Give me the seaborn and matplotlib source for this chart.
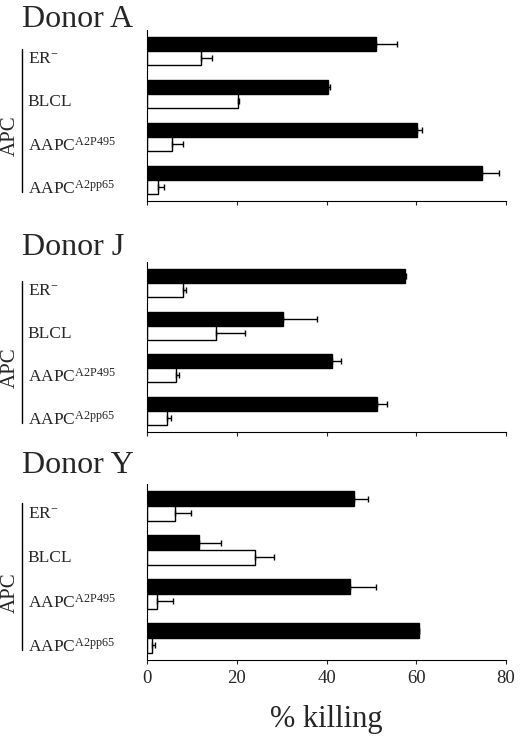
import numpy as np
import pandas as pd
import seaborn as sns
import matplotlib.pyplot as plt

# data (% killing)
cells = ["ER-", "BLCL", "AAPC A2P495", "AAPC A2pp65"]
cell_labels = ["ER$^{-}$", "BLCL", r"AAPC$^{\mathrm{A2P495}}$", r"AAPC$^{\mathrm{A2pp65}}$"]
targets = ["pulsed", "unpulsed"]
donors = ["Donor A", "Donor J", "Donor Y"]

donor_a_pulsed = [51, 40.3, 60.1, 74.7]
donor_a_pulsed_err = [4.7, 0.5, 1.2, 3.7]
donor_a_unpulsed = [12, 20.2, 5.5, 2.4]
donor_a_unpulsed_err = [2.5, 0.4, 2.5, 1.3]

donor_j_pulsed = [57.5, 30.3, 41.2, 51.2]
donor_j_pulsed_err = [0.3, 7.5, 2.0, 2.2]
donor_j_unpulsed = [8.0, 15.4, 6.5, 4.4]
donor_j_unpulsed_err = [0.8, 6.4, 0.7, 1.0]

donor_y_pulsed = [46.2, 11.6, 45.2, 60.6]
donor_y_pulsed_err = [3.1, 5.0, 5.8, 0.0]
donor_y_unpulsed = [6.2, 24, 2.2, 1.2]
donor_y_unpulsed_err = [3.6, 4.3, 3.5, 0.6]

values = {
    "Donor A": (donor_a_pulsed, donor_a_pulsed_err, donor_a_unpulsed, donor_a_unpulsed_err),
    "Donor J": (donor_j_pulsed, donor_j_pulsed_err, donor_j_unpulsed, donor_j_unpulsed_err),
    "Donor Y": (donor_y_pulsed, donor_y_pulsed_err, donor_y_unpulsed, donor_y_unpulsed_err),
}

sns.set_style("ticks")
plt.rcParams["font.family"] = "Liberation Serif"
plt.rcParams["mathtext.fontset"] = "custom"
plt.rcParams["mathtext.rm"] = "Liberation Serif"
plt.rcParams["mathtext.it"] = "Liberation Serif:italic"

fig = plt.figure(figsize=(5.2, 7.36), dpi=100)
W, H = 520, 736

# panel boxes in pixels: (top, bottom) of the axes
panel_px = [(30, 201), (262, 432), (484, 660)]
title_base_px = [27, 255, 473]
left_px, right_px = 147, 506

for i, donor in enumerate(donors):
    top, bottom = panel_px[i]
    ax = fig.add_axes([left_px / W, 1 - bottom / H, (right_px - left_px) / W, (bottom - top) / H])
    pulsed, pulsed_err, unpulsed, unpulsed_err = values[donor]
    df = pd.DataFrame({
        "cell": cells * 2,
        "target": [targets[0]] * 4 + [targets[1]] * 4,
        "kill": pulsed + unpulsed,
    })
    sns.barplot(data=df, y="cell", x="kill", hue="target", order=cells,
                hue_order=targets, orient="h", palette=["black", "white"],
                edgecolor="black", linewidth=1, width=0.66, errorbar=None,
                legend=False, ax=ax)

    # one-sided error bars at the bar ends
    for cont, vals, errs in zip(ax.containers, [pulsed, unpulsed], [pulsed_err, unpulsed_err]):
        ys = [b.get_y() + b.get_height() / 2 for b in cont]
        ax.errorbar(vals, ys, xerr=[np.zeros(len(vals)), errs], fmt="none",
                    ecolor="black", elinewidth=1, capsize=2.5, capthick=1)

    ax.set_xlim(0, 80)
    ax.set_ylim(3.5, -0.5)
    ax.set_xticks([0, 20, 40, 60, 80])
    ax.set_yticks(range(4))
    ax.set_yticklabels(cell_labels, fontsize=12.5, ha="left", va="top")
    ax.tick_params(axis="y", length=0, pad=86)
    ax.tick_params(axis="x", length=3, width=0.8, pad=4, labelsize=13.5)
    if i < 2:
        ax.set_xticklabels([])
        ax.set_xlabel("")
    else:
        ax.set_xlabel("% killing", fontsize=22, labelpad=13)
    ax.set_ylabel("")
    for s in ["left", "bottom"]:
        ax.spines[s].set_color("black")
        ax.spines[s].set_linewidth(0.8)
    sns.despine(ax=ax)

    # APC bracket
    ax.plot([-0.348, -0.348], [0.055, 0.89], color="black", lw=1,
            transform=ax.transAxes, clip_on=False)
    ax.text(-0.38, 0.38, "APC", rotation=90, fontsize=15, ha="center",
            va="center", transform=ax.transAxes)

    fig.text(22 / W, 1 - title_base_px[i] / H, donor, fontsize=23, va="baseline")

fig.savefig("out.png", dpi=100)
